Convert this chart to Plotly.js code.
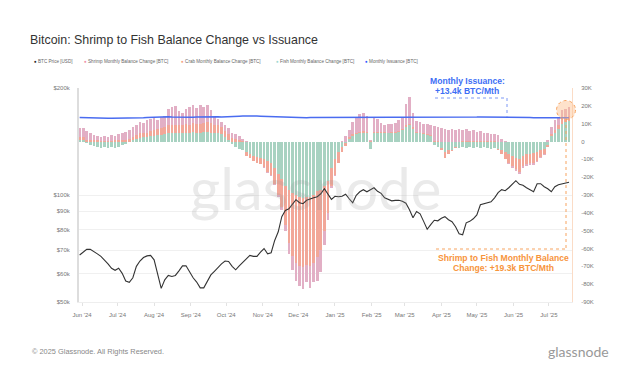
<!DOCTYPE html>
<html>
<head>
<meta charset="utf-8">
<script src="https://cdn.plot.ly/plotly-3.0.1.min.js"></script>
<style>html,body{margin:0;padding:0;background:#fff;}#chart{width:640px;height:375px;}</style>
</head>
<body>
<div id="chart"></div>
<script>
// Values (3-day sampling starting 2024-05-30)
const startDate = '2024-05-30';
const stepDays = 3;

const btcPriceK = [
67.8,69.1,70.3,70.3,69.4,68.3,67.2,65.7,64.0,62.2,
61.4,62.2,60.2,57.3,56.8,58.5,63.0,65.2,66.7,67.4,
67.6,65.7,60.4,54.6,57.7,59.4,59.0,59.4,61.2,63.2,
63.2,60.6,58.5,56.9,54.8,54.8,56.9,59.6,61.0,62.6,
64.0,65.2,65.0,63.0,61.6,63.2,64.6,66.1,67.6,67.2,
67.2,69.1,70.7,68.3,68.8,74.5,78.8,86.9,90.5,91.4,
94.1,97.0,95.1,94.5,96.6,97.6,98.2,98.9,100.8,104.1,
100.8,97.2,99.2,98.9,99.2,100.5,97.6,95.1,99.8,102.1,
103.5,102.1,103.5,104.8,102.4,101.1,98.2,97.2,96.3,96.6,
96.6,96.0,94.8,90.9,86.3,89.9,88.5,84.3,80.1,82.5,
84.9,84.6,86.0,86.9,85.2,84.1,81.4,77.8,77.3,83.5,
84.3,85.7,87.9,93.9,94.5,95.1,95.7,98.2,101.5,103.5,
102.8,104.8,107.6,109.7,107.2,106.5,104.8,103.5,102.1,107.6,
107.6,105.5,104.1,102.1,105.5,106.9,107.6,108.3,108.6];

const fishK = [
1.0,0.8,-1.0,-2.0,-2.5,-3.0,-3.5,-3.2,-3.5,-3.0,
-3.5,-3.0,-2.0,-1.5,-0.5,1.0,1.5,2.0,2.5,2.5,
3.0,3.0,3.5,3.5,4.0,4.5,4.5,4.5,4.5,5.0,
5.0,5.0,5.5,5.0,5.0,5.5,5.5,5.0,5.0,5.0,
4.0,2.5,1.0,-1.5,-3.0,-4.0,-5.0,-6.0,-7.0,-8.0,
-8.5,-9.0,-10.0,-11.0,-12.0,-15.0,-18.0,-21.0,-25.0,-27.0,
-29.0,-30.0,-31.0,-31.5,-31.0,-31.0,-30.0,-28.0,-27.0,-25.0,
-22.0,-15.0,-10.0,-6.0,-3.0,-1.0,1.5,3.0,4.0,4.5,
5.0,4.5,-4.0,5.0,5.0,5.0,5.0,4.5,5.0,5.0,
5.5,6.5,8.0,9.0,7.0,5.0,4.5,4.0,3.5,3.0,
-2.0,-3.0,-3.5,-6.0,-5.0,-4.5,-3.0,-3.5,-3.0,-3.5,
-3.0,-3.5,-3.0,-3.5,-3.0,-3.5,-4.0,-3.5,-4.0,-4.5,
-6.0,-7.0,-8.0,-9.0,-10.0,-8.0,-7.0,-7.0,-6.5,-6.0,
-5.0,-4.0,-2.0,3.0,5.0,7.0,10.0,11.0,11.5];

const crabK = [
1.5,1.5,1.0,1.0,0.8,0.6,0.5,0.5,0.4,0.5,
0.6,0.8,1.0,1.0,1.5,1.5,2.0,2.5,2.5,2.5,
3.0,3.5,3.5,4.0,4.0,4.5,5.0,5.0,4.5,4.5,
5.0,4.5,5.0,5.0,5.0,5.0,5.5,5.5,4.5,4.0,
4.0,3.5,3.0,2.0,1.5,1.0,0.5,-2.0,-2.5,-3.0,
-3.5,-3.5,-4.5,-6.0,-7.0,-9.0,-12.0,-16.0,-22.0,-30.0,
-35.0,-38.0,-39.0,-39.0,-38.0,-39.0,-38.0,-37.0,-34.0,-25.0,
-18.0,-10.0,-9.0,-6.0,-3.0,-1.5,1.0,1.0,1.0,1.0,
1.0,1.0,0.3,0.5,0.5,0.3,0.3,0.3,0.3,0.5,
0.5,0.5,1.0,1.0,1.0,0.5,0.5,0.5,0.5,0.5,
0.5,0.3,-1.0,-3.0,-2.0,-1.0,-0.5,-0.3,0.3,0.3,
0.3,0.3,0.3,0.3,0.3,0.3,0.3,0.3,-0.5,-2.5,
-4.0,-5.0,-6.0,-6.5,-7.0,-6.0,-5.5,-5.0,-5.5,-5.0,
-3.5,-3.0,-1.0,1.0,1.5,2.0,2.5,3.0,3.0];

const shrimpK = [
5.0,5.5,5.0,4.0,3.0,2.5,2.2,2.8,2.2,3.0,
2.6,3.5,4.0,4.5,5.0,5.5,6.0,6.5,5.5,7.0,
6.5,6.5,5.0,6.0,6.5,9.0,10.0,10.5,8.0,6.5,
8.0,10.0,10.0,9.0,10.5,9.0,9.5,7.0,4.0,3.5,
3.0,3.0,3.5,3.0,2.5,2.0,1.0,0.3,0.0,-0.2,
-0.2,-0.3,-0.5,-0.5,-0.5,-0.5,-1.0,-1.5,-3.0,-6.0,
-8.0,-10.0,-11.0,-12.0,-10.0,-12.0,-11.0,-13.0,-12.0,-8.0,
-4.0,-1.0,-0.5,-0.3,0.5,3.0,4.0,7.0,9.0,10.0,
10.0,9.0,0.8,8.0,7.0,5.0,4.0,5.0,4.5,5.0,
6.0,7.0,12.0,15.0,8.0,6.0,6.0,5.5,6.0,6.0,
8.0,8.0,7.5,7.0,6.5,7.0,6.5,7.0,6.0,6.5,
5.5,6.0,5.0,5.5,4.5,4.5,4.0,4.0,3.5,1.5,
0.5,-0.5,-1.0,-1.0,-1.5,-1.0,-1.0,-1.0,-1.0,-0.5,
-0.5,-0.3,1.0,4.0,5.5,4.5,5.0,4.5,4.8];

const issuanceK = [
13.4,13.3,13.3,13.2,13.2,13.1,13.1,13.0,13.0,13.0,13.0,
13.0,12.9,12.9,13.0,13.0,13.1,13.2,13.3,13.5,13.6,
13.8,13.9,14.0,14.0,13.9,13.8,13.7,13.6,13.6,13.6,
13.5,13.6,13.7,13.8,13.9,14.0,14.1,14.0,13.9,13.8,
13.8,13.9,14.0,14.1,14.2,14.3,14.4,14.5,14.4,14.3,
14.2,14.1,14.0,14.0,13.9,13.9,13.8,13.8,13.7,13.6,
13.5,13.4,13.4,13.3,13.4,13.4,13.5,13.5,13.4,13.4,
13.5,13.5,13.6,13.6,13.5,13.5,13.5,13.4,13.4,13.5,
13.5,13.4,13.4,13.3,13.3,13.4,13.4,13.5,13.5,13.4,
13.4,13.3,13.3,13.4,13.4,13.5,13.5,13.6,13.6,13.6,
13.5,13.5,13.4,13.4,13.5,13.6,13.7,13.7,13.6,13.6,
13.6,13.7,13.8,13.8,13.7,13.6,13.6,13.5,13.5,13.6,
13.6,13.7,13.7,13.6,13.5,13.5,13.4,13.3,13.3,13.2,
13.2,13.1,13.1,13.0,13.1,13.2,13.2,13.3];

const monthTicks = ['2024-06-01','2024-07-01','2024-08-01','2024-09-01','2024-10-01','2024-11-01','2024-12-01',
  '2025-01-01','2025-02-01','2025-03-01','2025-04-01','2025-05-01','2025-06-01','2025-07-01'];
const priceTickVals = [50,60,70,80,90,100,200];
const priceTickText = ['$50k','$60k','$70k','$80k','$90k','$100k','$200k'];
const balTickVals = [-90,-80,-70,-60,-50,-40,-30,-20,-10,0,10,20,30];
const balTickText = ['-90K','-80K','-70K','-60K','-50K','-40K','-30K','-20K','-10K','0','10K','20K','30K'];

const DAY = 86400000;
const t0 = Date.parse(startDate + 'T00:00:00Z');
const dates = btcPriceK.map((_, i) => new Date(t0 + i * stepDays * DAY).toISOString().slice(0, 10));

const FONT = 'Liberation Sans, Arial, sans-serif';
const barWidth = stepDays * DAY * 0.75;

const traces = [
  {type:'bar', x:dates, y:fishK, yaxis:'y', marker:{color:'#a8d2c1', line:{width:0}}, width:barWidth, name:'Fish Monthly Balance Change [BTC]', showlegend:false},
  {type:'bar', x:dates, y:crabK, yaxis:'y', marker:{color:'#f2a798', line:{width:0}}, width:barWidth, name:'Crab Monthly Balance Change [BTC]', showlegend:false},
  {type:'bar', x:dates, y:shrimpK, yaxis:'y', marker:{color:'#e2afc5', line:{width:0}}, width:barWidth, name:'Shrimp Monthly Balance Change [BTC]', showlegend:false},
  {type:'scatter', mode:'lines', x:dates, y:issuanceK, yaxis:'y', line:{color:'#4a6cf0', width:1.5}, name:'Monthly Issuance [BTC]', showlegend:false},
  {type:'scatter', mode:'lines', x:dates, y:btcPriceK, yaxis:'y2', line:{color:'#333333', width:1.1}, name:'BTC Price [USD]', showlegend:false}
];

// pixel helpers for annotation placement (plot area 79..572 x 88..302)
const px = v => (v - 79) / 493;
const py = v => (302 - v) / 214;

const legendItems = [
  ['#222222','BTC Price [USD]',32],
  ['#ef8fa6','Shrimp Monthly Balance Change [BTC]',82],
  ['#f5a27f','Crab Monthly Balance Change [BTC]',179],
  ['#9fd8d2','Fish Monthly Balance Change [BTC]',274],
  ['#2f55ff','Monthly Issuance [BTC]',363]
];

const annotations = legendItems.map(it => ({
  xref:'paper', yref:'paper', x:px(it[2]), y:py(61), xanchor:'left', yanchor:'middle', showarrow:false,
  text:'<span style="color:' + it[0] + '">●</span> ' + it[1], font:{size:4.6, color:'#666', family:FONT}
}));

annotations.push(
  {xref:'paper', yref:'paper', x:px(315), y:py(187), xanchor:'center', yanchor:'middle', showarrow:false,
   text:'glassnode', font:{size:58, color:'rgba(150,150,150,0.2)', family:'Lato, '+FONT}},
  {xref:'paper', yref:'paper', x:px(467), y:py(81), xanchor:'center', yanchor:'middle', showarrow:false,
   text:'<b>Monthly Issuance:</b>', font:{size:8.6, color:'#3d6ef5', family:FONT}},
  {xref:'paper', yref:'paper', x:px(467), y:py(91), xanchor:'center', yanchor:'middle', showarrow:false,
   text:'<b>+13.4k BTC/Mth</b>', font:{size:8.6, color:'#3d6ef5', family:FONT}},
  {xref:'paper', yref:'paper', x:px(503.5), y:py(257.7), xanchor:'center', yanchor:'middle', showarrow:false,
   text:'<b>Shrimp to Fish Monthly Balance</b>', font:{size:8.6, color:'#f7943c', family:FONT}},
  {xref:'paper', yref:'paper', x:px(503.5), y:py(268.3), xanchor:'center', yanchor:'middle', showarrow:false,
   text:'<b>Change: +19.3k BTC/Mth</b>', font:{size:8.6, color:'#f7943c', family:FONT}},
  {xref:'paper', yref:'paper', x:px(30), y:py(351), xanchor:'left', yanchor:'middle', showarrow:false,
   text:'© 2025 Glassnode. All Rights Reserved.', font:{size:7.4, color:'#888', family:FONT}},
  {xref:'paper', yref:'paper', x:px(611), y:py(351), xanchor:'right', yanchor:'middle', showarrow:false,
   text:'glassnode', font:{size:14, color:'#999', family:'Lato, '+FONT}}
);

const shapes = [
  {type:'line', xref:'paper', yref:'paper', x0:px(435), x1:px(507), y0:py(98), y1:py(98), line:{color:'#7d98f5', width:1, dash:'dot'}},
  {type:'line', xref:'paper', yref:'paper', x0:px(507), x1:px(507), y0:py(98), y1:py(117), line:{color:'#7d98f5', width:1, dash:'dot'}},
  {type:'line', xref:'paper', yref:'paper', x0:px(566), x1:px(566), y0:py(119), y1:py(249), line:{color:'#f7a460', width:1, dash:'dot'}},
  {type:'line', xref:'paper', yref:'paper', x0:px(436), x1:px(566), y0:py(249), y1:py(249), line:{color:'#f7a460', width:1, dash:'dot'}},
  {type:'circle', xref:'paper', yref:'paper', xsizemode:'pixel', ysizemode:'pixel', xanchor:px(566), yanchor:py(110),
   x0:-9.5, x1:9.5, y0:-9.5, y1:9.5, fillcolor:'rgba(252,190,140,0.45)', line:{color:'#f7a460', width:1, dash:'dot'}}
];

const layout = {
  width:640, height:375,
  margin:{l:79, r:68, t:88, b:73, pad:0},
  paper_bgcolor:'#fff', plot_bgcolor:'#fff',
  font:{family:FONT, color:'#777'},
  title:{text:'Bitcoin: Shrimp to Fish Balance Change vs Issuance', xref:'container', yref:'container',
         x:30/640, xanchor:'left', y:1-40/375, yanchor:'middle', font:{size:12.4, color:'#333', family:FONT}},
  barmode:'relative', bargap:0,
  showlegend:false,
  xaxis:{type:'date', range:['2024-05-29 11:00','2025-07-20 12:00'], tickvals:monthTicks, tickformat:"%b '%y",
         tickfont:{size:6, color:'#777'}, showgrid:false, zeroline:false, showline:true, linecolor:'#eeeeee', linewidth:1,
         ticks:'outside', ticklen:3, tickcolor:'#e2e2e2', ticklabelstandoff:4},
  yaxis:{side:'right', range:[-90,30], tickvals:balTickVals, ticktext:balTickText, tickfont:{size:6, color:'#777'},
         showgrid:false, zeroline:false, showline:true, linecolor:'#fbdcc6', linewidth:1, ticks:'', ticklabelstandoff:7},
  yaxis2:{overlaying:'y', side:'left', type:'log', range:[Math.log10(50), Math.log10(200)], tickvals:priceTickVals,
          ticktext:priceTickText, tickfont:{size:6, color:'#777'}, showgrid:true, gridcolor:'#f0f0f0', gridwidth:1,
          zeroline:false, showline:true, linecolor:'#dddddd', linewidth:2, ticks:'', ticklabelstandoff:6},
  annotations:annotations,
  shapes:shapes
};

Plotly.newPlot('chart', traces, layout, {displayModeBar:false, staticPlot:true});
</script>
</body>
</html>
